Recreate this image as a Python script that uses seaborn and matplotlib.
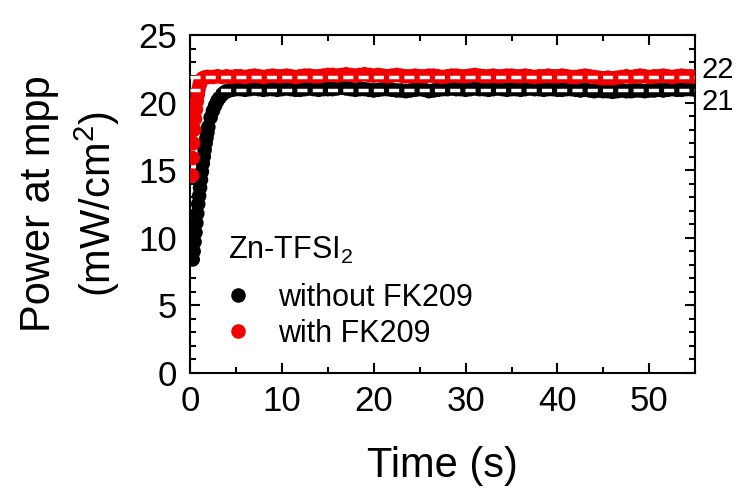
import matplotlib
matplotlib.use('Agg')
import matplotlib.pyplot as plt
import seaborn as sns
import numpy as np
import pandas as pd
from matplotlib.ticker import MultipleLocator

# without FK209 (black): fast rise then plateau near 21
t_black = [0.3, 0.4, 0.5, 0.6, 0.7, 0.8, 0.9, 1.0, 1.1, 1.2, 1.3, 1.4, 1.5, 1.6, 1.7, 1.8, 1.9, 2.0,
           2.25, 2.5, 2.75, 3.0, 3.25, 3.5, 3.75, 4.0, 4.25, 4.5, 4.75, 5.0,
           5.5, 6.0, 6.5, 7.0, 7.5, 8.0, 8.5, 9.0, 9.5, 10.0,
           10.5, 11.0, 11.5, 12.0, 12.5, 13.0, 13.5, 14.0, 14.5, 15.0,
           15.5, 16.0, 16.5, 17.0, 17.5, 18.0, 18.5, 19.0, 19.5, 20.0,
           20.5, 21.0, 21.5, 22.0, 22.5, 23.0, 23.5, 24.0, 24.5, 25.0,
           25.5, 26.0, 26.5, 27.0, 27.5, 28.0, 28.5, 29.0, 29.5, 30.0,
           30.5, 31.0, 31.5, 32.0, 32.5, 33.0, 33.5, 34.0, 34.5, 35.0,
           35.5, 36.0, 36.5, 37.0, 37.5, 38.0, 38.5, 39.0, 39.5, 40.0,
           40.5, 41.0, 41.5, 42.0, 42.5, 43.0, 43.5, 44.0, 44.5, 45.0,
           45.5, 46.0, 46.5, 47.0, 47.5, 48.0, 48.5, 49.0, 49.5, 50.0,
           50.5, 51.0, 51.5, 52.0, 52.5, 53.0, 53.5, 54.0, 54.5, 55.0]
p_black = [8.4, 9.0, 9.7, 10.4, 11.1, 11.8, 12.5, 13.1, 13.7, 14.3, 14.9, 15.5, 16.0, 16.5, 17.0, 17.4, 17.8, 18.2,
           18.9, 19.4, 19.8, 20.15, 20.4, 20.6, 20.75, 20.85, 20.9, 20.95, 21.0, 21.0,
           21.0, 20.95, 21.0, 21.05, 21.0, 20.95, 21.0, 21.0, 20.95, 21.0,
           21.05, 21.0, 20.95, 20.95, 21.0, 21.05, 21.0, 20.95, 21.0, 21.0,
           21.0, 21.05, 21.1, 21.05, 21.0, 20.95, 21.0, 21.0, 20.95, 20.9,
           20.95, 21.0, 21.0, 20.95, 20.9, 20.9, 20.85, 20.9, 20.95, 21.0,
           20.95, 20.85, 20.9, 20.95, 21.0, 21.0, 21.05, 21.0, 21.0, 20.95,
           21.0, 21.05, 21.0, 21.0, 20.95, 21.0, 21.05, 21.0, 20.95, 21.0,
           21.0, 20.95, 21.0, 21.05, 21.0, 21.0, 20.95, 21.0, 21.0, 20.95,
           20.95, 21.0, 21.0, 20.95, 20.9, 20.95, 20.9, 20.85, 20.9, 20.85,
           20.85, 20.8, 20.85, 20.9, 20.85, 20.85, 20.9, 20.9, 20.85, 20.9,
           20.9, 20.95, 20.9, 20.95, 21.0, 20.95, 20.95, 21.0, 21.0, 20.95]

# with FK209 (red): faster rise, plateau near 22
t_red = [0.25, 0.3, 0.35, 0.45, 0.55, 0.65, 0.75, 0.85, 0.95, 1.05, 1.15, 1.25, 1.4, 1.6, 1.8, 2.0,
         2.5, 3.0, 3.5, 4.0, 4.5, 5.0,
         5.5, 6.0, 6.5, 7.0, 7.5, 8.0, 8.5, 9.0, 9.5, 10.0,
         10.5, 11.0, 11.5, 12.0, 12.5, 13.0, 13.5, 14.0, 14.5, 15.0,
         15.5, 16.0, 16.5, 17.0, 17.5, 18.0, 18.5, 19.0, 19.5, 20.0,
         20.5, 21.0, 21.5, 22.0, 22.5, 23.0, 23.5, 24.0, 24.5, 25.0,
         25.5, 26.0, 26.5, 27.0, 27.5, 28.0, 28.5, 29.0, 29.5, 30.0,
         30.5, 31.0, 31.5, 32.0, 32.5, 33.0, 33.5, 34.0, 34.5, 35.0,
         35.5, 36.0, 36.5, 37.0, 37.5, 38.0, 38.5, 39.0, 39.5, 40.0,
         40.5, 41.0, 41.5, 42.0, 42.5, 43.0, 43.5, 44.0, 44.5, 45.0,
         45.5, 46.0, 46.5, 47.0, 47.5, 48.0, 48.5, 49.0, 49.5, 50.0,
         50.5, 51.0, 51.5, 52.0, 52.5, 53.0, 53.5, 54.0, 54.5, 55.0]
p_red = [14.6, 15.9, 17.0, 18.0, 18.8, 19.5, 20.1, 20.6, 21.0, 21.3, 21.55, 21.7, 21.8, 21.85, 21.9, 21.9,
         21.9, 21.95, 21.9, 21.95, 21.9, 21.95,
         21.95, 21.9, 21.95, 22.0, 21.95, 21.9, 21.95, 22.0, 21.95, 21.95,
         22.0, 21.95, 21.9, 21.95, 22.0, 22.0, 21.95, 21.95, 22.0, 22.05,
         22.05, 22.0, 22.05, 22.1, 22.05, 22.0, 22.05, 22.1, 22.05, 22.0,
         22.05, 22.0, 21.95, 22.0, 22.05, 22.0, 21.95, 21.95, 22.0, 21.95,
         21.95, 22.0, 22.0, 21.95, 21.9, 21.95, 22.0, 22.0, 21.95, 21.95,
         22.0, 22.05, 22.0, 21.95, 21.95, 22.0, 21.95, 21.95, 22.0, 22.0,
         21.95, 21.95, 22.0, 21.95, 21.9, 21.95, 21.95, 22.0, 21.95, 21.95,
         22.0, 21.95, 21.9, 21.9, 21.95, 22.0, 21.95, 21.9, 21.85, 21.8,
         21.85, 21.8, 21.85, 21.9, 21.95, 21.9, 21.95, 22.0, 21.95, 21.9,
         21.95, 21.95, 22.0, 21.95, 21.9, 21.95, 22.0, 21.95, 21.95, 21.9]

labels = ['without FK209', 'with FK209']
colors = ['black', '#f00000']
plateau_lines = [20.95, 21.9]   # steady-state levels (dashed white)
plateau_text = ['21', '22']
text_y = [20.05, 22.45]

df = pd.DataFrame({
    'time': t_black + t_red,
    'power': p_black + p_red,
    'sample': [labels[0]] * len(t_black) + [labels[1]] * len(t_red),
})

sns.set_style('ticks')
plt.rcParams['font.family'] = ['Liberation Sans', 'DejaVu Sans']
plt.rcParams['mathtext.fontset'] = 'custom'
plt.rcParams['mathtext.rm'] = 'Liberation Sans'
plt.rcParams['mathtext.it'] = 'Liberation Sans'
for key in ['text.color', 'axes.labelcolor', 'xtick.color', 'ytick.color', 'axes.edgecolor']:
    plt.rcParams[key] = 'black'

fig = plt.figure(figsize=(7.42, 4.94), dpi=100)
ax = fig.add_axes([0.256, 0.245, 0.681, 0.684])

sns.scatterplot(data=df, x='time', y='power', hue='sample', hue_order=labels,
                palette=dict(zip(labels, colors)), s=110, linewidth=0, ax=ax, zorder=3)

for lvl in plateau_lines:
    ax.axhline(lvl, color='white', lw=2.5, dashes=(2.9, 1.5), zorder=4)
for lvl, txt in zip(text_y, plateau_text):
    ax.text(1.012, lvl, txt, transform=ax.get_yaxis_transform(), fontsize=21,
            va='center', ha='left')

ax.set_xlim(0, 55)
ax.set_ylim(0, 25)
ax.xaxis.set_major_locator(MultipleLocator(10))
ax.xaxis.set_minor_locator(MultipleLocator(5))
ax.yaxis.set_major_locator(MultipleLocator(5))
ax.yaxis.set_minor_locator(MultipleLocator(1))
ax.tick_params(which='both', direction='in', top=True, right=True, width=1.5)
ax.tick_params(which='major', length=7, labelsize=25, pad=9)
ax.tick_params(which='minor', length=4.5)
for sp in ax.spines.values():
    sp.set_linewidth(1.5)

ax.set_xlabel('Time (s)', fontsize=30, labelpad=20)
ax.set_ylabel('Power at mpp\n(mW/cm$^2$)', fontsize=30, labelpad=12, linespacing=1.35)

handles, lbls = ax.get_legend_handles_labels()
ax.text(0.075, 0.364, 'Zn-TFSI$_2$', transform=ax.transAxes, fontsize=22,
        va='center', ha='left')
leg = ax.legend(handles, lbls, loc='center left',
                bbox_to_anchor=(0.065, 0.169), frameon=False, fontsize=22,
                handlelength=1.0, handletextpad=0.8, markerscale=1.0,
                labelspacing=0.2, borderaxespad=0, borderpad=0)

fig.savefig('out.png', dpi=100)
